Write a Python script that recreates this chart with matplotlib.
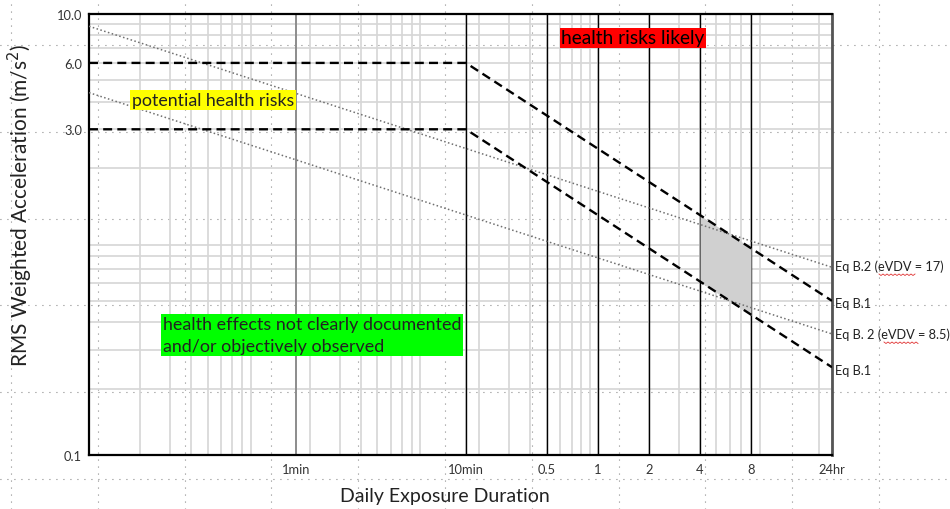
import numpy as np
import matplotlib
matplotlib.use("Agg")
import matplotlib.pyplot as plt
from matplotlib.lines import Line2D

plt.rcParams['font.family'] = ['Lato', 'DejaVu Sans']

# exposure times in hours, acceleration in m/s^2
b1_hours = [0.001, 10 / 60, 24]
b1_upper = [6.0, 6.0, 0.50]
b1_lower = [3.0, 3.0, 0.25]

b2_hours = [0.001, 24]
b2_evdv17 = [8.8, 0.71]
b2_evdv85 = [4.4, 0.354]

zone_hours = [4, 8]
zone_upper = [1.22, 0.87]
zone_lower = [0.61, 0.43]

x_ticks = [1 / 60, 10 / 60, 0.5, 1, 2, 4, 8, 24]
x_labels = ['1min', '10min', '0.5', '1', '2', '4', '8', '24hr']
y_ticks = [0.1, 3.0, 6.0, 10.0]
y_labels = ['0.1', '3.0', '6.0', '10.0']

W, H = 950, 510


def fx(x):
    return x / W


def fy(y):
    return 1 - y / H


fig = plt.figure(figsize=(9.5, 5.1), dpi=100)

# dotted page grid behind everything
for gx in np.arange(11, W, 86.8):
    fig.add_artist(Line2D([fx(gx), fx(gx)], [0, 1], color='#707070', lw=0.8,
                          dashes=(0.8, 5.5), zorder=0))
for gy in np.arange(46, H, 86.8):
    fig.add_artist(Line2D([0, 1], [fy(gy), fy(gy)], color='#707070', lw=0.8,
                          dashes=(0.8, 5.5), zorder=0))

ax = fig.add_axes([fx(89), fy(456), fx(832) - fx(89), fy(15) - fy(456)])
ax.set_facecolor('none')
ax.set_xscale('log')
ax.set_yscale('log')
ax.set_xlim(0.001, 24)
ax.set_ylim(0.1, 10)

ax.grid(which='both', color='#d6d6d6', lw=1.2, zorder=1)
ax.set_axisbelow(True)

# reference durations
ax.axvline(1 / 60, color='#808080', lw=1.2, zorder=2)
for t in x_ticks[1:-1]:
    ax.axvline(t, color='black', lw=1.0, zorder=2)

ax.fill_between(zone_hours, zone_lower, zone_upper, color='#d0d0d0', lw=0, zorder=3)

ax.plot(b2_hours, b2_evdv17, color='#6f6f6f', lw=1.1, dashes=(1, 1.6), zorder=4)
ax.plot(b2_hours, b2_evdv85, color='#6f6f6f', lw=1.1, dashes=(1, 1.6), zorder=4)
ax.plot(b1_hours, b1_upper, color='black', lw=1.7, dashes=(3.8, 2.2), zorder=5)
ax.plot(b1_hours, b1_lower, color='black', lw=1.7, dashes=(3.8, 2.2), zorder=5)

ax.set_xticks(x_ticks)
ax.set_xticklabels(x_labels)
ax.set_yticks(y_ticks)
ax.set_yticklabels(y_labels)
ax.minorticks_on()
ax.tick_params(which='both', length=0, labelsize=9.3, colors='#333333')
ax.tick_params(axis='x', pad=6)
ax.tick_params(axis='y', pad=5)
ax.xaxis.set_minor_formatter(plt.NullFormatter())
ax.yaxis.set_minor_formatter(plt.NullFormatter())

for side in ['left', 'bottom', 'top']:
    ax.spines[side].set_linewidth(1.6)
    ax.spines[side].set_color('black')
ax.spines['right'].set_linewidth(2.0)
ax.spines['right'].set_color('#555555')

# axis titles
fig.text(fx(445), fy(497), 'Daily Exposure Duration', fontsize=14, color='#222222',
         ha='center', va='center')
fig.text(fx(20), fy(205), 'RMS Weighted Acceleration (m/s$^2$)', fontsize=15,
         color='#222222', ha='center', va='center', rotation=90)

# zone labels
fig.text(fx(132), fy(101), 'potential health risks', fontsize=12.8, va='center',
         color='#222222',
         bbox=dict(facecolor='#ffff00', edgecolor='none', pad=1.2), zorder=6)
fig.text(fx(561), fy(39), 'health risks likely', fontsize=13.8, va='center',
         color='black',
         bbox=dict(facecolor='#ff0000', edgecolor='none', pad=1.0), zorder=6)
fig.text(fx(163), fy(336),
         'health effects not clearly documented\nand/or objectively observed',
         fontsize=12.9, va='center', color='#222222', linespacing=1.45,
         bbox=dict(facecolor='#00ff00', edgecolor='none', pad=1.4), zorder=6)

# curve names on the right
right_labels = ['Eq B.2 (eVDV = 17)', 'Eq B.1', 'Eq B. 2 (eVDV = 8.5)', 'Eq B.1']
right_y = [267, 304, 335, 371]
for lab, yy in zip(right_labels, right_y):
    fig.text(fx(835), fy(yy), lab, fontsize=9.2, va='center', color='#222222')

# spell-check squiggles under "eVDV"
for x0, x1, yy in [(879, 915, 275), (884, 919, 343)]:
    xs = np.arange(x0, x1 + 1, 2.0)
    ys = yy + np.where(np.arange(len(xs)) % 2 == 0, 0, 1.5)
    fig.add_artist(Line2D(fx(xs), fy(ys), color='#e03030', lw=0.6, zorder=6))

fig.savefig('out.png', dpi=100)
